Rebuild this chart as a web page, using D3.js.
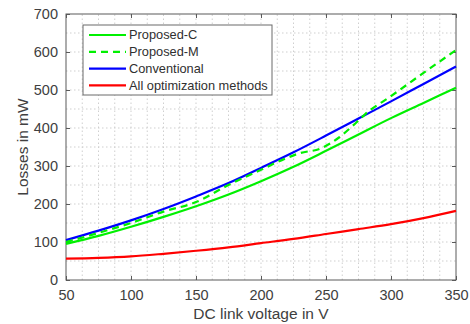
<!DOCTYPE html>
<html>
<head>
<meta charset="utf-8">
<script src="https://cdn.jsdelivr.net/npm/d3@7"></script>
<style>
  body { margin: 0; background: #fff; }
  text { font-family: "Liberation Sans", Arial, sans-serif; }
</style>
</head>
<body>
<div id="chart"></div>
<script>
// ==== Data ====
const voltage = [50, 75, 100, 125, 150, 175, 200, 225, 250, 275, 300, 325, 350];
const proposedC = [95, 116, 140, 166, 194, 225, 260, 298, 340, 383, 426, 466, 506];
const conventional = [105, 130, 157, 187, 220, 255, 295, 336, 380, 425, 470, 516, 562];
const allOptim = [56, 58, 62, 69, 77, 86, 97, 108, 121, 134, 147, 163, 182];
// Proposed-M has a kink around 230-280 V, so it is sampled more densely
const voltageM = [50, 75, 100, 125, 150, 175, 200, 215, 230, 245, 260, 270, 280, 300, 325, 350];
const proposedM = [100, 124, 150, 180, 205, 250, 290, 314, 334, 345, 375, 404, 436, 484, 545, 605];

const xTicks = [50, 100, 150, 200, 250, 300, 350];
const yTicks = [0, 100, 200, 300, 400, 500, 600, 700];
const legendLabels = ["Proposed-C", "Proposed-M", "Conventional", "All optimization methods"];

// ==== Setup ====
const width = 470, height = 324;
const margin = { left: 66, right: 14, top: 14, bottom: 44 };

const svg = d3.select("#chart").append("svg")
  .attr("width", width)
  .attr("height", height);

const x = d3.scaleLinear().domain([50, 350]).range([margin.left, width - margin.right]);
const y = d3.scaleLinear().domain([0, 700]).range([height - margin.bottom, margin.top]);

const x0 = x.range()[0], x1 = x.range()[1];
const y0 = y.range()[0], y1 = y.range()[1];

// grid (major + minor, all dotted)
const gridX = d3.range(50, 350.01, 12.5);
const gridY = d3.range(0, 700.01, 50);
const grid = svg.append("g").attr("stroke", "#cfcfcf").attr("stroke-width", 1)
  .attr("stroke-dasharray", "1.5,2.5");
grid.selectAll(".gx").data(gridX.slice(1, -1)).join("line")
  .attr("x1", d => x(d)).attr("x2", d => x(d))
  .attr("y1", y0).attr("y2", y1);
grid.selectAll(".gy").data(gridY.slice(1, -1)).join("line")
  .attr("y1", d => y(d)).attr("y2", d => y(d))
  .attr("x1", x0).attr("x2", x1);

// axes frame with inward ticks on all sides
const axisColor = "#5a5a5a";
const tickCol = "#404040";
function styleAxis(g) {
  g.select(".domain").remove();
  g.selectAll(".tick line").attr("stroke", axisColor);
  g.selectAll(".tick text").attr("fill", tickCol).style("font-size", "14.5px")
    .style("font-family", '"Liberation Sans", Arial, sans-serif');
}
svg.append("g").attr("transform", `translate(0,${y0})`)
  .call(d3.axisBottom(x).tickValues(xTicks).tickSize(-4).tickPadding(10))
  .call(styleAxis);
svg.append("g").attr("transform", `translate(0,${y1})`)
  .call(d3.axisTop(x).tickValues(xTicks).tickSize(-4).tickFormat(""))
  .call(styleAxis);
svg.append("g").attr("transform", `translate(${x0},0)`)
  .call(d3.axisLeft(y).tickValues(yTicks).tickSize(-4).tickPadding(8))
  .call(styleAxis);
svg.append("g").attr("transform", `translate(${x1},0)`)
  .call(d3.axisRight(y).tickValues(yTicks).tickSize(-4).tickFormat(""))
  .call(styleAxis);

svg.append("rect")
  .attr("x", x0).attr("y", y1)
  .attr("width", x1 - x0).attr("height", y0 - y1)
  .attr("fill", "none").attr("stroke", axisColor).attr("stroke-width", 1);

// ==== Lines ====
const series = [
  { xs: voltage, ys: proposedC, color: "#00f000", dash: null },
  { xs: voltageM, ys: proposedM, color: "#00f000", dash: "7,5" },
  { xs: voltage, ys: conventional, color: "#0000ff", dash: null },
  { xs: voltage, ys: allOptim, color: "#ff0000", dash: null }
];
const line = d3.line().x(d => x(d[0])).y(d => y(d[1])).curve(d3.curveMonotoneX);

// draw order: red, green, dashed, blue
[3, 0, 2, 1].forEach(i => {
  const s = series[i];
  svg.append("path")
    .datum(s.xs.map((v, k) => [v, s.ys[k]]))
    .attr("d", line)
    .attr("fill", "none")
    .attr("stroke", s.color)
    .attr("stroke-width", 2.2)
    .attr("stroke-dasharray", s.dash);
});

// ==== Axis labels ====
svg.append("text")
  .attr("x", (x0 + x1) / 2).attr("y", 319)
  .attr("text-anchor", "middle")
  .attr("fill", tickCol).style("font-size", "15.5px")
  .text("DC link voltage in V");
svg.append("text")
  .attr("transform", `translate(28,${(y0 + y1) / 2}) rotate(-90)`)
  .attr("text-anchor", "middle")
  .attr("fill", tickCol).style("font-size", "15.5px")
  .text("Losses in mW");

// ==== Legend ====
const leg = svg.append("g");
leg.append("rect")
  .attr("x", 83).attr("y", 25).attr("width", 189).attr("height", 70)
  .attr("fill", "#fff").attr("stroke", "#6a6a6a").attr("stroke-width", 1);
legendLabels.forEach((lab, i) => {
  const s = series[i];
  const ly = 35 + i * 16.8;
  leg.append("line")
    .attr("x1", 89).attr("x2", 126).attr("y1", ly).attr("y2", ly)
    .attr("stroke", s.color).attr("stroke-width", 2.2)
    .attr("stroke-dasharray", s.dash);
  leg.append("text")
    .attr("x", 129).attr("y", ly).attr("dy", "0.35em")
    .attr("fill", "#303030").style("font-size", "12.8px")
    .text(lab);
});
</script>
</body>
</html>
